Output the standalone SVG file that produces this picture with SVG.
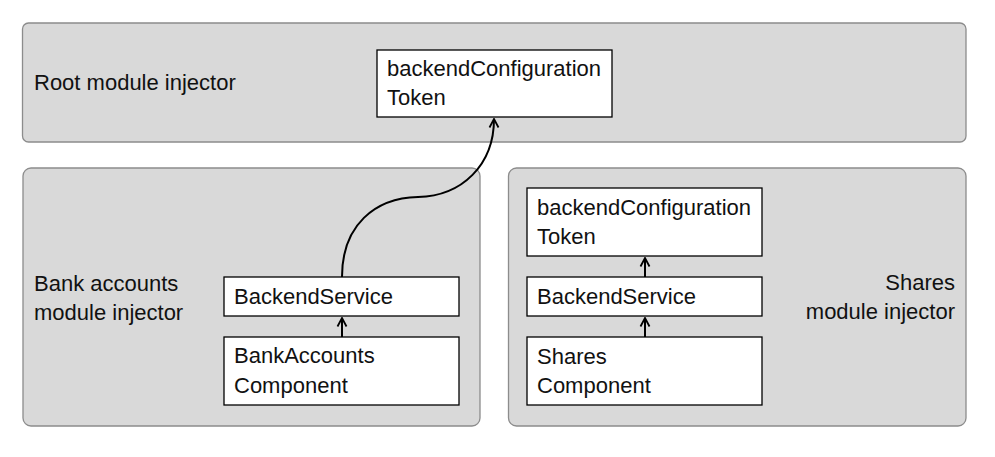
<svg xmlns="http://www.w3.org/2000/svg" width="995" height="457" viewBox="0 0 995 457">
<defs>
<style>
.grp{fill:#d9d9d9;stroke:#8c8c8c;stroke-width:1.3}
.box{fill:#ffffff;stroke:#000000;stroke-width:1.3}
text{font-family:"Liberation Sans","Open Sans",sans-serif;font-size:22px;fill:#111111}
.con{fill:none;stroke:#000000;stroke-width:2}
</style>
<marker id="arr" viewBox="0 0 12 12" refX="10.5" refY="6" markerWidth="12" markerHeight="12" markerUnits="userSpaceOnUse" orient="auto">
<path d="M2,1.5 L10.5,6 L2,10.5" fill="none" stroke="#000" stroke-width="1.8"/>
</marker>
</defs>
<rect width="995" height="457" fill="#ffffff"/>
<g id="root-injector">
<rect class="grp" x="22.5" y="23" width="943.5" height="119" rx="6"/>
<text x="34" y="90">Root module injector</text>
</g>
<g id="bank-injector">
<rect class="grp" x="23" y="168" width="457" height="258" rx="8"/>
<text x="34" y="291">Bank accounts</text>
<text x="34" y="320">module injector</text>
</g>
<g id="shares-injector">
<rect class="grp" x="508.5" y="168" width="457.5" height="258" rx="8"/>
<text x="955" y="290" text-anchor="end">Shares</text>
<text x="955" y="319" text-anchor="end">module injector</text>
</g>
<g id="root-token">
<rect class="box" x="377" y="50" width="235" height="67"/>
<text x="387" y="76">backendConfiguration</text>
<text x="387" y="105">Token</text>
</g>
<g id="bank-backend-service">
<rect class="box" x="224" y="277" width="235" height="39"/>
<text x="234" y="304">BackendService</text>
</g>
<g id="bank-accounts-component">
<rect class="box" x="224" y="337" width="235" height="68"/>
<text x="234" y="363">BankAccounts</text>
<text x="234" y="393">Component</text>
</g>
<g id="shares-token">
<rect class="box" x="527" y="188" width="235" height="68"/>
<text x="537" y="215">backendConfiguration</text>
<text x="537" y="244">Token</text>
</g>
<g id="shares-backend-service">
<rect class="box" x="527" y="277" width="235" height="39"/>
<text x="537" y="304">BackendService</text>
</g>
<g id="shares-component">
<rect class="box" x="527" y="337" width="235" height="68"/>
<text x="537" y="364">Shares</text>
<text x="537" y="393">Component</text>
</g>
<g id="connectors">
<path class="con" marker-end="url(#arr)" d="M342,337 L342,318"/>
<path class="con" marker-end="url(#arr)" d="M342,277 C342,225 375,198 418,197 C462,196 494,165 494,119"/>
<path class="con" marker-end="url(#arr)" d="M645,337 L645,318"/>
<path class="con" marker-end="url(#arr)" d="M645,277 L645,258"/>
</g>
</svg>
